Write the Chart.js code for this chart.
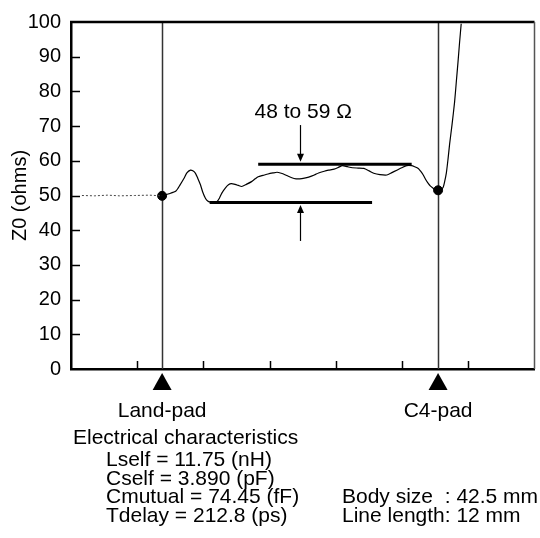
<!DOCTYPE html>
<html><head><meta charset="utf-8">
<script src="https://cdn.jsdelivr.net/npm/chart.js@4.4.1/dist/chart.umd.min.js"></script>
<style>html,body{margin:0;padding:0;background:#fff}#wrap{width:540px;height:538px}</style>
</head><body><div id="wrap"><canvas id="c" width="540" height="538"></canvas></div>
<script>
// ---- data ----
const leadX = [0.165,0.359,0.553,0.733,0.957,1.182,1.376];
const leadZ = [50.0,49.9,50.1,49.9,50.0,50.1,49.9];
const traceX = [1.376,1.481,1.585,1.645,1.705,1.750,1.805,1.840,1.880,1.914,1.955,1.989,2.030,2.064,2.104,2.154,2.203,2.243,2.278,2.333,2.378,2.423,2.478,2.528,2.577,2.647,2.727,2.782,2.827,2.902,2.976,3.051,3.111,3.175,3.231,3.275,3.335,3.400,3.455,3.525,3.590,3.675,3.739,3.824,3.889,3.974,4.038,4.098,4.173,4.248,4.337,4.423,4.502,4.572,4.666,4.771,4.846,4.921,4.995,5.070,5.145,5.190,5.245,5.280,5.320,5.354,5.395,5.429,5.470,5.504,5.544,5.579,5.619,5.643,5.669,5.694,5.718,5.755,5.793,5.818,5.844,5.868,5.893];
const traceZ = [49.9,50.5,51.3,53.0,54.9,56.5,57.3,57.1,56.4,55.0,53.1,51.0,49.2,48.4,48.1,48.0,48.2,49.3,50.7,52.2,53.1,53.4,53.2,52.9,52.6,53.2,54.0,54.8,55.4,55.8,56.2,56.5,56.7,56.4,56.0,55.6,55.1,54.8,54.8,55.0,55.3,55.9,56.5,57.0,57.3,57.6,58.1,58.6,58.3,58.0,57.9,57.8,57.1,56.4,56.0,55.9,56.6,57.3,58.0,58.6,58.6,58.3,57.8,57.0,55.9,54.7,53.5,52.7,52.1,51.6,51.5,51.6,52.3,54.0,56.5,60.5,64.8,70.5,76.9,82.5,88.3,94.0,99.5];
const padX = [1.376, 5.544];
const padZ = [49.9, 51.5];
const padLabels = ['Land-pad', 'C4-pad'];
const bandZ = [48, 59];
const bandStart = [2.094, 2.827];
const bandEnd = [4.547, 5.145];
const bandLabel = '48 to 59 \u03A9';
const arrowX = 3.462;
const arrowFromZ = [70.3, 36.9];
const xTicks = [1, 2, 3, 4, 5, 6];
const yTicks = [10, 20, 30, 40, 50, 60, 70, 80, 90];
const charTitle = 'Electrical characteristics';
const charLines = ['Lself = 11.75 (nH)', 'Cself = 3.890 (pF)', 'Cmutual = 74.45 (fF)', 'Tdelay = 212.8 (ps)'];
const bodyLines = ['Body size  : 42.5 mm', 'Line length: 12 mm'];

const FONT = '"Liberation Sans", Arial, Helvetica, sans-serif';
const toPts = (xs, ys) => xs.map((x, i) => ({x, y: ys[i]}));

const decor = {
  id: 'decor',
  beforeDatasetsDraw(chart) {
    const {ctx, chartArea: a, scales: {x, y}} = chart;
    ctx.save();
    ctx.strokeStyle = '#333'; ctx.lineWidth = 1.5;
    padX.forEach(v => { const px = Math.round(x.getPixelForValue(v)) + 0.5; ctx.beginPath(); ctx.moveTo(px, a.top); ctx.lineTo(px, a.bottom); ctx.stroke(); });
    ctx.strokeStyle = '#000'; ctx.lineWidth = 3;
    bandZ.forEach((z, i) => { const py = y.getPixelForValue(z); ctx.beginPath(); ctx.moveTo(x.getPixelForValue(bandStart[i]), py); ctx.lineTo(x.getPixelForValue(bandEnd[i]), py); ctx.stroke(); });
    const ax = Math.round(x.getPixelForValue(arrowX)) + 0.5;
    ctx.lineWidth = 1.2; ctx.fillStyle = '#000';
    arrowFromZ.forEach((z, i) => {
      const y0 = y.getPixelForValue(z);
      const tipZ = i === 0 ? bandZ[1] : bandZ[0];
      const dir = i === 0 ? 1 : -1;
      const y1 = y.getPixelForValue(tipZ) - dir * 2.5;
      ctx.beginPath(); ctx.moveTo(ax, y0); ctx.lineTo(ax, y1 - dir * 6); ctx.stroke();
      ctx.beginPath(); ctx.moveTo(ax, y1); ctx.lineTo(ax - 3.5, y1 - dir * 8); ctx.lineTo(ax + 3.5, y1 - dir * 8); ctx.closePath(); ctx.fill();
    });
    ctx.restore();
  },
  afterDraw(chart) {
    const {ctx, chartArea: a, scales: {x, y}} = chart;
    ctx.save();
    ctx.strokeStyle = '#000'; ctx.lineWidth = 2.5;
    ctx.beginPath(); ctx.moveTo(a.left - 1, a.top); ctx.lineTo(a.right, a.top); ctx.stroke();
    ctx.strokeStyle = '#555'; ctx.lineWidth = 1.5;
    ctx.beginPath(); ctx.moveTo(a.right, a.top); ctx.lineTo(a.right, a.bottom); ctx.stroke();
    ctx.strokeStyle = '#000'; ctx.lineWidth = 1.5;
    xTicks.forEach(v => { const px = Math.round(x.getPixelForValue(v)) + 0.5; ctx.beginPath(); ctx.moveTo(px, a.bottom); ctx.lineTo(px, a.bottom - 8); ctx.stroke(); });
    yTicks.forEach(v => { const py = Math.round(y.getPixelForValue(v)) + 0.5; ctx.beginPath(); ctx.moveTo(a.left, py); ctx.lineTo(a.left + 9, py); ctx.stroke(); });
    ctx.fillStyle = '#000';
    ctx.font = '21px ' + FONT; ctx.textAlign = 'center'; ctx.textBaseline = 'middle';
    padX.forEach((v, i) => {
      const px = x.getPixelForValue(v);
      ctx.beginPath(); ctx.moveTo(px, a.bottom + 4); ctx.lineTo(px - 9.5, a.bottom + 21); ctx.lineTo(px + 9.5, a.bottom + 21); ctx.closePath(); ctx.fill();
      ctx.fillText(padLabels[i], px, a.bottom + 42);
    });
    ctx.fillText(bandLabel, x.getPixelForValue(arrowX) + 3, y.getPixelForValue(arrowFromZ[0]) - 13);
    ctx.textAlign = 'left';
    ctx.fillText(charTitle, a.left + 2, a.bottom + 69);
    charLines.forEach((t, i) => ctx.fillText(t, a.left + 35, a.bottom + 91.5 + i * 18.5));
    bodyLines.forEach((t, i) => ctx.fillText(t, a.left + 271, a.bottom + 128.5 + i * 18.5));
    ctx.restore();
  }
};

new Chart(document.getElementById('c'), {
  type: 'scatter',
  data: {
    datasets: [
      {data: toPts(leadX, leadZ), showLine: true, borderColor: '#444', borderWidth: 1, borderDash: [2, 2], pointRadius: 0},
      {data: toPts(traceX, traceZ), showLine: true, borderColor: '#000', borderWidth: 1.2, pointRadius: 0, tension: 0.2},
      {data: toPts(padX, padZ), showLine: false, pointRadius: 4.5, pointBackgroundColor: '#000', pointBorderColor: '#000'}
    ]
  },
  options: {
    responsive: false, animation: false, devicePixelRatio: 1,
    layout: {padding: {top: 19, right: 1, left: 0, bottom: 0}},
    plugins: {legend: {display: false}, tooltip: {enabled: false}},
    scales: {
      x: {
        type: 'linear', min: 0, max: 7,
        grid: {display: false},
        border: {display: true, color: '#000', width: 2.5},
        ticks: {display: false},
        afterFit(s) { s.height = 169; }
      },
      y: {
        min: 0, max: 100,
        grid: {display: false, drawTicks: false},
        border: {display: true, color: '#000', width: 2.5},
        ticks: {stepSize: 10, color: '#000', padding: 10, font: {size: 20, family: FONT}},
        title: {display: true, text: 'Z0 (ohms)', color: '#000', font: {size: 20, family: FONT}, padding: {top: 8, bottom: 0}},
        afterFit(s) { s.width = 71; }
      }
    }
  },
  plugins: [decor]
});
</script></body></html>
